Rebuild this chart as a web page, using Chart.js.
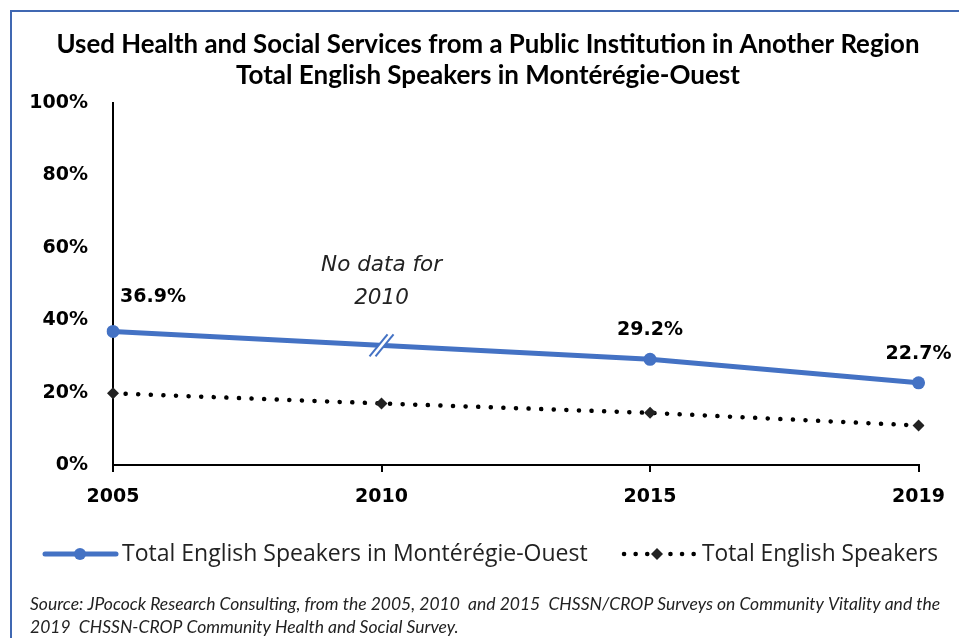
<!DOCTYPE html>
<html>
<head>
<meta charset="utf-8">
<script src="https://cdn.jsdelivr.net/npm/chart.js@4.4.1/dist/chart.umd.min.js"></script>
<style>
    html, body { margin: 0; padding: 0; background: #fff; overflow: hidden; }
    #wrap { position: relative; width: 959px; height: 638px; }
    #frame { position: absolute; left: 10px; top: 10px; width: 990px; height: 700px; border: 2px solid #4068b2; box-sizing: border-box; }
    canvas { position: absolute; left: 0; top: 0; }
</style>
</head>
<body>
<div id="wrap">
    <div id="frame"></div>
    <canvas id="chart" width="959" height="638"></canvas>
</div>
<script>
    // Data
    const years = ['2005', '2010', '2015', '2019'];
    const monteregie = [36.9, null, 29.2, 22.7];
    const allEnglish = [19.8, 17.0, 14.4, 10.9];
    const yTickStep = 20;
    const yMax = 100;

    const titleLines = [
        'Used Health and Social Services from a Public Institution in Another Region',
        'Total English Speakers in Montérégie-Ouest'
    ];
    const seriesNames = ['Total English Speakers in Montérégie-Ouest', 'Total English Speakers'];
    const gapNote = ['No data for', '2010'];
    const sourceLines = [
        'Source: JPocock Research Consulting, from the 2005, 2010  and 2015  CHSSN/CROP Surveys on Community Vitality and the',
        '2019  CHSSN-CROP Community Health and Social Survey.'
    ];

    const BLUE = '#4472c4';
    const tickFont = { family: 'DejaVu Sans', size: 19, weight: 'bold' };

    // title, legend, source text, value labels and the "no data" break
    const decorations = {
        id: 'decorations',
        afterDatasetsDraw(chart) {
            const ctx = chart.ctx;
            const blue = chart.getDatasetMeta(0).data;
            const x = chart.scales.x;

            // value labels on the blue line
            ctx.save();
            ctx.fillStyle = '#000';
            ctx.font = 'bold 19px "DejaVu Sans"';
            ctx.textAlign = 'center';
            ctx.textBaseline = 'middle';
            monteregie.forEach((v, i) => {
                if (v === null) return;
                const p = blue[i];
                const dx = i === 0 ? 40 : 0;
                const dy = i === 0 ? -34 : -29;
                ctx.fillText(v.toFixed(1) + '%', p.x + dx, p.y + dy);
            });

            // break marker where 2010 is missing
            const bx = x.getPixelForValue(1);
            const by = (blue[0].y + blue[2].y) / 2;
            ctx.fillStyle = '#fff';
            ctx.beginPath();
            ctx.moveTo(bx - 12, by + 11);
            ctx.lineTo(bx + 6, by - 11);
            ctx.lineTo(bx + 12, by - 11);
            ctx.lineTo(bx - 6, by + 11);
            ctx.closePath();
            ctx.fill();
            ctx.strokeStyle = BLUE;
            ctx.lineWidth = 2;
            [-3, 3].forEach(o => {
                ctx.beginPath();
                ctx.moveTo(bx + o - 9, by + 11);
                ctx.lineTo(bx + o + 9, by - 11);
                ctx.stroke();
            });

            // "No data for 2010"
            ctx.fillStyle = '#222';
            ctx.font = 'oblique 21.5px "DejaVu Sans"';
            ctx.fillText(gapNote[0], bx, by - 80);
            ctx.fillText(gapNote[1], bx, by - 47);
            ctx.restore();
        },
        afterDraw(chart) {
            const ctx = chart.ctx;
            ctx.save();
            ctx.fillStyle = '#000';
            ctx.textBaseline = 'middle';

            // title
            ctx.textAlign = 'center';
            ctx.font = 'bold 26px Lato';
            ctx.fillText(titleLines[0], 488, 45, 863);
            ctx.fillText(titleLines[1], 488, 76, 504);

            // legend
            const ly = 554;
            ctx.strokeStyle = BLUE;
            ctx.lineWidth = 5;
            ctx.lineCap = 'round';
            ctx.beginPath();
            ctx.moveTo(45, ly);
            ctx.lineTo(116, ly);
            ctx.stroke();
            ctx.fillStyle = BLUE;
            ctx.beginPath();
            ctx.arc(80, ly, 6, 0, Math.PI * 2);
            ctx.fill();

            ctx.strokeStyle = '#000';
            ctx.lineWidth = 4.5;
            ctx.setLineDash([0.1, 11.5]);
            ctx.beginPath();
            ctx.moveTo(624, ly);
            ctx.lineTo(694, ly);
            ctx.stroke();
            ctx.setLineDash([]);
            ctx.fillStyle = '#222';
            ctx.beginPath();
            ctx.moveTo(657, ly - 6);
            ctx.lineTo(663, ly);
            ctx.lineTo(657, ly + 6);
            ctx.lineTo(651, ly);
            ctx.closePath();
            ctx.fill();

            ctx.fillStyle = '#222';
            ctx.textAlign = 'left';
            ctx.font = '23px "Open Sans"';
            ctx.fillText(seriesNames[0], 122, ly, 468);
            ctx.fillText(seriesNames[1], 702, ly, 236);

            // source
            ctx.font = 'italic 17.5px Lato';
            ctx.fillText(sourceLines[0], 30, 604, 912);
            ctx.fillText(sourceLines[1], 30, 627);
            ctx.restore();
        }
    };

    const ctx = document.getElementById('chart').getContext('2d');
    new Chart(ctx, {
        type: 'line',
        data: {
            labels: years,
            datasets: [
                {
                    label: seriesNames[0],
                    data: monteregie,
                    borderColor: BLUE,
                    backgroundColor: BLUE,
                    borderWidth: 5,
                    pointRadius: 6.5,
                    pointBorderWidth: 0,
                    pointBackgroundColor: BLUE,
                    spanGaps: true,
                    tension: 0
                },
                {
                    label: seriesNames[1],
                    data: allEnglish,
                    borderColor: '#000',
                    backgroundColor: '#222',
                    borderWidth: 4.5,
                    borderDash: [0.1, 12.5],
                    borderCapStyle: 'round',
                    pointStyle: 'rectRot',
                    pointRadius: 6,
                    pointBorderWidth: 0,
                    pointBackgroundColor: '#222',
                    tension: 0
                }
            ]
        },
        options: {
            responsive: false,
            animation: false,
            layout: {
                padding: { left: 20, top: 103, right: 39, bottom: 123 }
            },
            plugins: {
                legend: { display: false },
                title: { display: false },
                tooltip: { enabled: false }
            },
            scales: {
                x: {
                    offset: false,
                    grid: {
                        display: true,
                        drawOnChartArea: false,
                        drawTicks: true,
                        tickLength: 7,
                        color: '#000',
                        lineWidth: 2
                    },
                    border: { display: true, color: '#000', width: 2 },
                    ticks: { font: tickFont, color: '#000', padding: 14, maxRotation: 0 },
                    afterFit: s => { s.height = 50; }
                },
                y: {
                    min: 0,
                    max: yMax,
                    grid: { display: false, drawTicks: false },
                    border: { display: true, color: '#000', width: 2 },
                    ticks: {
                        stepSize: yTickStep,
                        font: tickFont,
                        color: '#000',
                        padding: 25,
                        callback: v => v + '%'
                    },
                    afterFit: s => { s.width = 93; }
                }
            }
        },
        plugins: [decorations]
    });
</script>
</body>
</html>
